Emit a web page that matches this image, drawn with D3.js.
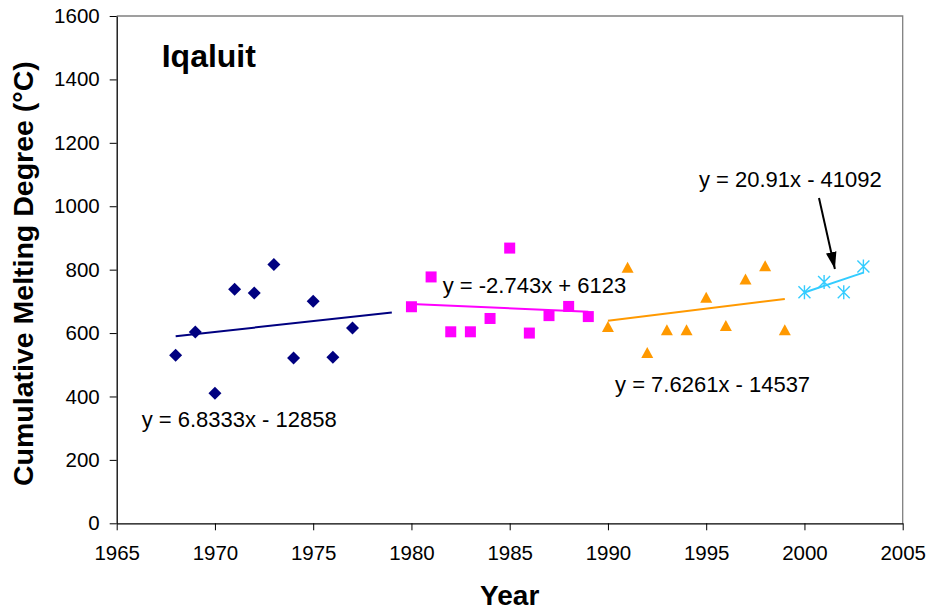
<!DOCTYPE html>
<html>
<head>
<meta charset="utf-8">
<script src="https://cdn.jsdelivr.net/npm/d3@7/dist/d3.min.js"></script>
<style>
  html, body { margin: 0; padding: 0; background: #fff; }
  svg { display: block; font-family: "Liberation Sans", Arial, sans-serif; }
</style>
</head>
<body>
<svg id="chart" width="928" height="614"></svg>
<script>
// ---- Data ----
const years1 = [1968, 1969, 1970, 1971, 1972, 1973, 1974, 1975, 1976, 1977];
const values1 = [530, 603, 410, 738, 726, 816, 521, 700, 524, 616];
const years2 = [1980, 1981, 1982, 1983, 1984, 1985, 1986, 1987, 1988, 1989];
const values2 = [683, 777, 604, 604, 646, 868, 600, 655, 684, 652];
const years3 = [1990, 1991, 1992, 1993, 1994, 1995, 1996, 1997, 1998, 1999];
const values3 = [619, 806, 537, 609, 609, 711, 622, 769, 811, 609];
const years4 = [2000, 2001, 2002, 2003];
const values4 = [729, 761, 729, 810];

const trendSlopes = [6.8333, -2.743, 7.6261, 20.91];
const trendIntercepts = [-12858, 6123, -14537, -41092];
const trendStart = [1968, 1980, 1990, 2000];
const trendEnd = [1979, 1989, 1999, 2003];
const equationTexts = ["y = 6.8333x - 12858", "y = -2.743x + 6123", "y = 7.6261x - 14537", "y = 20.91x - 41092"];
const equationYear = [1966.27, 1981.59, 1990.36, 1994.63];
const equationValue = [305, 725, 415, 1062];

const xTicks = [1965, 1970, 1975, 1980, 1985, 1990, 1995, 2000, 2005];
const yTicks = [0, 200, 400, 600, 800, 1000, 1200, 1400, 1600];

const chartTitle = "Iqaluit";
const xTitle = "Year";
const yTitle = "Cumulative Melting Degree (°C)";

(function () {
// ---- Layout ----
const svg = d3.select("#chart");
const pLeft = 116.7, pRight = 902.7, pTop = 16, pBottom = 523.3;
const x = d3.scaleLinear().domain([1965, 2005]).range([pLeft, pRight]);
const y = d3.scaleLinear().domain([0, 1600]).range([pBottom, pTop]);

const colors = ["#000080", "#FF00FF", "#FF9900", "#33CCFF"];

// plot border (top & right gray)
svg.append("path")
  .attr("d", `M${pLeft},${pTop}H${pRight}V${pBottom}`)
  .attr("fill", "none").attr("stroke", "#808080").attr("stroke-width", 1.3);

// axes
const xAxis = d3.axisBottom(x).tickValues(xTicks).tickFormat(d3.format("d")).tickSize(7).tickSizeOuter(0).tickPadding(15);
const gx = svg.append("g").attr("transform", `translate(0,${pBottom})`).call(xAxis);
gx.select(".domain").attr("stroke", "#000").attr("stroke-width", 1.3);
gx.selectAll(".tick line").attr("stroke", "#000");
gx.selectAll("text").attr("font-size", 20.5).attr("fill", "#000").attr("font-family", "Liberation Sans, Arial, sans-serif");

const yAxis = d3.axisLeft(y).tickValues(yTicks).tickFormat(d3.format("d")).tickSize(7).tickSizeOuter(0).tickPadding(10);
const gy = svg.append("g").attr("transform", `translate(${pLeft},0)`).call(yAxis);
gy.select(".domain").attr("stroke", "#000").attr("stroke-width", 1.3);
gy.selectAll(".tick line").attr("stroke", "#000");
gy.selectAll("text").attr("font-size", 20.5).attr("fill", "#000").attr("font-family", "Liberation Sans, Arial, sans-serif");

// trend lines
trendSlopes.forEach((m, i) => {
  const b = trendIntercepts[i];
  svg.append("line")
    .attr("x1", x(trendStart[i])).attr("y1", y(m * trendStart[i] + b))
    .attr("x2", x(trendEnd[i])).attr("y2", y(m * trendEnd[i] + b))
    .attr("stroke", colors[i]).attr("stroke-width", 2);
});

// series markers
const s1 = years1.map((d, i) => [d, values1[i]]);
const s2 = years2.map((d, i) => [d, values2[i]]);
const s3 = years3.map((d, i) => [d, values3[i]]);
const s4 = years4.map((d, i) => [d, values4[i]]);

svg.append("g").selectAll("path").data(s1).join("path")
  .attr("transform", d => `translate(${x(d[0])},${y(d[1])})`)
  .attr("d", "M0,-6.5L6.5,0L0,6.5L-6.5,0Z").attr("fill", colors[0]);

svg.append("g").selectAll("rect").data(s2).join("rect")
  .attr("x", d => x(d[0]) - 5.5).attr("y", d => y(d[1]) - 5.5)
  .attr("width", 11).attr("height", 11).attr("fill", colors[1]);

svg.append("g").selectAll("path").data(s3).join("path")
  .attr("transform", d => `translate(${x(d[0])},${y(d[1])})`)
  .attr("d", "M0,-6L6,5L-6,5Z").attr("fill", colors[2]);

svg.append("g").selectAll("path").data(s4).join("path")
  .attr("transform", d => `translate(${x(d[0])},${y(d[1])})`)
  .attr("d", "M0,-7V7M-6,-6L6,6M-6,6L6,-6")
  .attr("stroke", colors[3]).attr("stroke-width", 1.4).attr("fill", "none");

// equation labels
equationTexts.forEach((t, i) => {
  svg.append("text")
    .attr("x", x(equationYear[i])).attr("y", y(equationValue[i]))
    .attr("font-size", 22).attr("fill", "#000").text(t);
});

// arrow
svg.append("defs").append("marker")
  .attr("id", "arrowhead").attr("viewBox", "0 0 16 10")
  .attr("refX", 16).attr("refY", 5)
  .attr("markerWidth", 8.5).attr("markerHeight", 5.5)
  .attr("markerUnits", "strokeWidth")
  .attr("orient", "auto")
  .append("path").attr("d", "M0,0L16,5L0,10Z").attr("fill", "#000");
svg.append("line")
  .attr("x1", x(2000.74)).attr("y1", y(1026))
  .attr("x2", x(2001.55)).attr("y2", y(802))
  .attr("stroke", "#000").attr("stroke-width", 2)
  .attr("marker-end", "url(#arrowhead)");

// titles
svg.append("text")
  .attr("x", x(1967.29)).attr("y", y(1440))
  .attr("font-size", 32).attr("font-weight", "bold").attr("fill", "#000").text(chartTitle);

svg.append("text")
  .attr("x", (pLeft + pRight) / 2).attr("y", 605)
  .attr("text-anchor", "middle").attr("font-size", 28).attr("font-weight", "bold").text(xTitle);

svg.append("text")
  .attr("transform", `translate(33,${(pTop + pBottom) / 2 + 4}) rotate(-90)`)
  .attr("text-anchor", "middle").attr("font-size", 28.5).attr("font-weight", "bold").text(yTitle);
})();
</script>
</body>
</html>
